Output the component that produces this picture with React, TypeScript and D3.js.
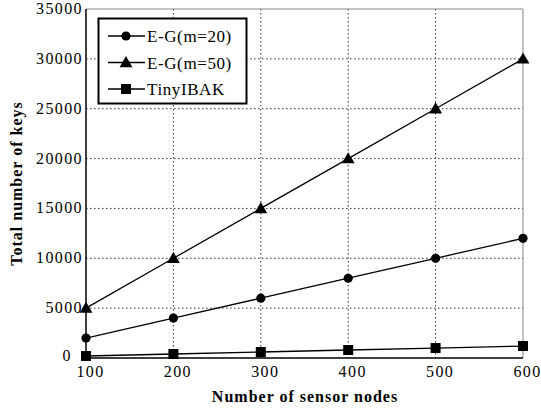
import React from "react";
import * as d3 from "d3";

const nodes = [100, 200, 300, 400, 500, 600];
const egM20 = [2000, 4000, 6000, 8000, 10000, 12000];
const egM50 = [5000, 10000, 15000, 20000, 25000, 30000];
const tinyIbak = [200, 400, 600, 800, 1000, 1200];
const yTicks = [0, 5000, 10000, 15000, 20000, 25000, 30000, 35000];

const series = [
  { name: "E-G(m=20)", values: egM20, marker: "circle" },
  { name: "E-G(m=50)", values: egM50, marker: "triangle" },
  { name: "TinyIBAK", values: tinyIbak, marker: "square" },
];

const W = 541;
const H = 412;
const m = { left: 86, right: 523, top: 9, bottom: 358 };
const font = '"Liberation Serif"';

function Marker({ kind, x, y }: { kind: string; x: number; y: number }) {
  if (kind === "circle") return <circle cx={x} cy={y} r={4.6} fill="#000" />;
  if (kind === "triangle")
    return <path d={d3.symbol(d3.symbolTriangle, 72)()!} transform={`translate(${x},${y + 1})`} fill="#000" />;
  return <rect x={x - 5} y={y - 5} width={10} height={10} fill="#000" />;
}

export default function App() {
  const x = d3.scaleLinear().domain([100, 600]).range([m.left, m.right]);
  const y = d3.scaleLinear().domain([0, 35000]).range([m.bottom, m.top]);
  const line = d3
    .line<number>()
    .x((_, i) => x(nodes[i]))
    .y((d) => y(d));

  return (
    <svg width={W} height={H} style={{ position: "absolute", left: 0, top: 0, fontFamily: font }}>
      <rect width={W} height={H} fill="#fff" />
      {/* grid */}
      {nodes.slice(1, -1).map((n) => (
        <line key={"gx" + n} x1={x(n)} x2={x(n)} y1={m.top} y2={m.bottom} stroke="#333" strokeDasharray="1.5,2.5" />
      ))}
      {yTicks.slice(1, -1).map((t) => (
        <line key={"gy" + t} x1={m.left} x2={m.right} y1={y(t)} y2={y(t)} stroke="#333" strokeDasharray="1.5,2.5" />
      ))}
      {/* frame */}
      <line x1={m.left} x2={m.right} y1={m.top} y2={m.top} stroke="#888" />
      <line x1={m.right} x2={m.right} y1={m.top} y2={m.bottom} stroke="#888" />
      <line x1={m.left} x2={m.left} y1={m.top} y2={m.bottom} stroke="#000" strokeWidth={1.5} />
      <line x1={m.left} x2={m.right} y1={m.bottom} y2={m.bottom} stroke="#000" strokeWidth={1.5} />
      {/* ticks */}
      {yTicks.map((t) => (
        <text
          key={"ty" + t}
          x={t === 0 ? m.left - 14 : m.left - 3}
          y={t === 0 ? y(t) + 3 : y(t) + 5}
          textAnchor="end"
          fontSize={16}
          letterSpacing={1.4}
        >
          {t}
        </text>
      ))}
      {nodes.map((n) => (
        <text key={"tx" + n} x={x(n) + 4.5} y={m.bottom + 19} textAnchor="middle" fontSize={16} letterSpacing={1.4}>
          {n}
        </text>
      ))}
      {/* series */}
      {series.map((s) => (
        <g key={s.name}>
          <path d={line(s.values)!} fill="none" stroke="#000" strokeWidth={1.3} />
          {s.values.map((v, i) => (
            <Marker key={i} kind={s.marker} x={x(nodes[i])} y={y(v)} />
          ))}
        </g>
      ))}
      {/* legend */}
      <rect x={98.5} y={18.5} width={148} height={85} fill="#fff" stroke="#000" strokeWidth={2} />
      {series.map((s, i) => {
        const ly = 36 + i * 26.5;
        return (
          <g key={"lg" + s.name}>
            <line x1={108} x2={145} y1={ly} y2={ly} stroke="#000" strokeWidth={1.3} />
            <Marker kind={s.marker} x={126} y={ly} />
            <text x={147} y={ly + 6} fontSize={17} letterSpacing={0.6}>
              {s.name}
            </text>
          </g>
        );
      })}
      {/* axis titles */}
      <text x={305} y={402} textAnchor="middle" fontSize={16} fontWeight="bold" letterSpacing={1}>
        Number of sensor nodes
      </text>
      <text
        transform={`translate(22,${(m.top + m.bottom) / 2}) rotate(-90)`}
        textAnchor="middle"
        fontSize={16}
        fontWeight="bold"
        letterSpacing={1}
      >
        Total number of keys
      </text>
    </svg>
  );
}
